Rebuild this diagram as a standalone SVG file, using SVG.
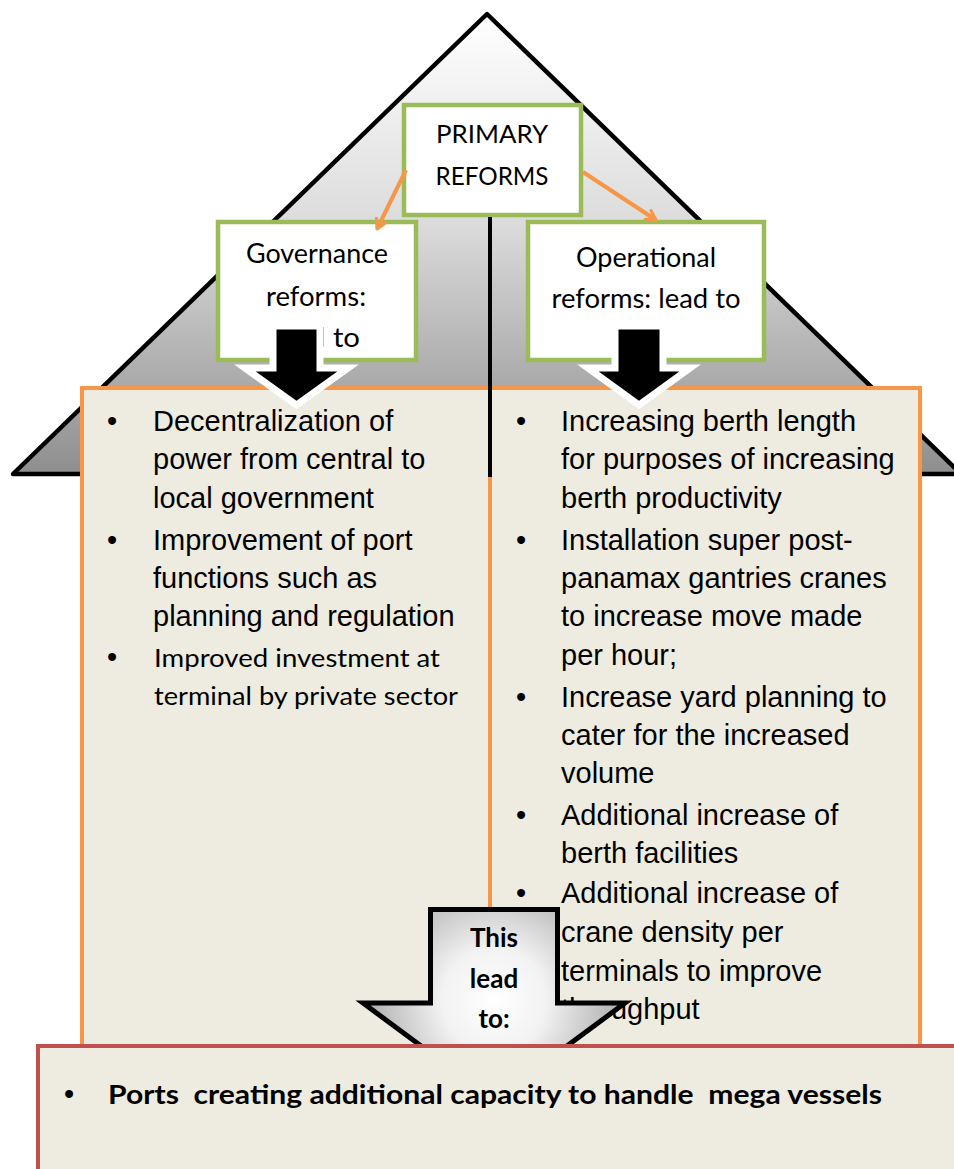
<svg xmlns="http://www.w3.org/2000/svg" width="954" height="1169" viewBox="0 0 954 1169">
<defs>
<linearGradient id="roofGrad" gradientUnits="userSpaceOnUse" x1="0" y1="14" x2="0" y2="474">
<stop offset="0" stop-color="#ffffff"/>
<stop offset="0.45" stop-color="#dcdcdc"/>
<stop offset="1" stop-color="#8e8e8e"/>
</linearGradient>
<radialGradient id="arrowGrad" gradientUnits="userSpaceOnUse" cx="494" cy="1000" r="150">
<stop offset="0" stop-color="#ffffff"/>
<stop offset="0.35" stop-color="#f2f2f2"/>
<stop offset="1" stop-color="#9a9a9a"/>
</radialGradient>
<marker id="openArrow" viewBox="0 0 12 12" refX="10" refY="6" markerWidth="13" markerHeight="13" markerUnits="userSpaceOnUse" orient="auto">
<path d="M1,1 L10,6 L1,11" fill="none" stroke="#f79646" stroke-width="2.8" stroke-linecap="round" stroke-linejoin="round"/>
</marker>
<style>
.green{fill:#ffffff;stroke:#9bbb59;stroke-width:4.5}
.cal{font-family:Lato,"Open Sans","Liberation Sans",sans-serif;fill:#000}
.ar{font-family:"Liberation Sans",Arial,sans-serif;font-size:29px;fill:#000}
.orangebox{fill:#eeece1;stroke:#f79646;stroke-width:4}
.blk{fill:#000;stroke:#ffffff;stroke-width:7;stroke-linejoin:miter}
.conn{stroke:#f79646;stroke-width:4;fill:none;marker-end:url(#openArrow)}
</style>
</defs>

<g id="roof">
<polygon points="487,14 961,474 13,474" fill="url(#roofGrad)" stroke="#000" stroke-width="4.5" stroke-linejoin="round"/>
</g>

<g id="primary">
<rect class="green" x="404" y="105" width="177" height="110"/>
<text class="cal" x="492" y="143" font-size="25" text-anchor="middle" textLength="112" lengthAdjust="spacingAndGlyphs">PRIMARY</text>
<text class="cal" x="492" y="185" font-size="25" text-anchor="middle" textLength="113" lengthAdjust="spacingAndGlyphs">REFORMS</text>
</g>

<g id="governance">
<rect class="green" x="218" y="222" width="198" height="138"/>
<text class="cal" x="317" y="263" font-size="26" text-anchor="middle" textLength="142" lengthAdjust="spacingAndGlyphs">Governance</text>
<text class="cal" x="316" y="306" font-size="26" text-anchor="middle" textLength="100" lengthAdjust="spacingAndGlyphs">reforms:</text>
<text class="cal" x="316" y="347" font-size="26" text-anchor="middle" textLength="88" lengthAdjust="spacingAndGlyphs">lead to</text>
</g>

<g id="operational">
<rect class="green" x="528" y="222" width="236" height="138"/>
<text class="cal" x="646" y="267" font-size="26" text-anchor="middle" textLength="140" lengthAdjust="spacingAndGlyphs">Operational</text>
<text class="cal" x="646" y="308" font-size="26" text-anchor="middle" textLength="189" lengthAdjust="spacingAndGlyphs">reforms: lead to</text>
</g>

<g id="connectors">
<line class="conn" x1="406" y1="170" x2="377" y2="229"/>
<line class="conn" x1="583" y1="172" x2="656" y2="220"/>
</g>

<g id="governance-outcomes">
<rect class="orangebox" x="82" y="388" width="408" height="680"/>
<text class="ar" x="112" y="430.5" text-anchor="middle">•</text>
<text class="ar" x="153" y="430.5">Decentralization of</text>
<text class="ar" x="153" y="469">power from central to</text>
<text class="ar" x="153" y="507.5">local government</text>
<text class="ar" x="112" y="549.5" text-anchor="middle">•</text>
<text class="ar" x="153" y="549.5">Improvement of port</text>
<text class="ar" x="153" y="588">functions such as</text>
<text class="ar" x="153" y="626">planning and regulation</text>
<text class="ar" x="112" y="667" text-anchor="middle">•</text>
<text class="cal" x="154" y="667" font-size="25.5" textLength="286" lengthAdjust="spacingAndGlyphs">Improved investment at</text>
<text class="cal" x="154" y="705" font-size="25.5" textLength="304" lengthAdjust="spacingAndGlyphs">terminal by private sector</text>
</g>

<g id="operational-outcomes">
<rect class="orangebox" x="490" y="388" width="430" height="680"/>
<text class="ar" x="521" y="430.5" text-anchor="middle">•</text>
<text class="ar" x="561" y="430.5">Increasing berth length</text>
<text class="ar" x="561" y="469">for purposes of increasing</text>
<text class="ar" x="561" y="507.5">berth productivity</text>
<text class="ar" x="521" y="549.5" text-anchor="middle">•</text>
<text class="ar" x="561" y="549.5">Installation super post-</text>
<text class="ar" x="561" y="588">panamax gantries cranes</text>
<text class="ar" x="561" y="626">to increase move made</text>
<text class="ar" x="561" y="664.5">per hour;</text>
<text class="ar" x="521" y="706.5" text-anchor="middle">•</text>
<text class="ar" x="561" y="706.5">Increase yard planning to</text>
<text class="ar" x="561" y="745">cater for the increased</text>
<text class="ar" x="561" y="783">volume</text>
<text class="ar" x="521" y="825" text-anchor="middle">•</text>
<text class="ar" x="561" y="825">Additional increase of</text>
<text class="ar" x="561" y="863">berth facilities</text>
<text class="ar" x="521" y="903" text-anchor="middle">•</text>
<text class="ar" x="561" y="903">Additional increase of</text>
<text class="ar" x="561" y="942">crane density per</text>
<text class="ar" x="561" y="981">terminals to improve</text>
<text class="ar" x="561" y="1019">throughput</text>
</g>

<g id="divider">
<line x1="490" y1="217" x2="490" y2="477" stroke="#000" stroke-width="4"/>
</g>

<g id="gov-arrow">
<polygon class="blk" points="273,326 320,326 320,368 348,368 296.5,405 245,368 273,368"/>
</g>
<g id="op-arrow">
<polygon class="blk" points="615,326 663,326 663,368 690,368 639,405 588,368 615,368"/>
</g>

<g id="lead-arrow">
<polygon points="430.5,909.5 557.5,909.5 557.5,1003 625,1003 494,1100 363,1003 430.5,1003" fill="url(#arrowGrad)" stroke="#000" stroke-width="5" stroke-linejoin="miter"/>
<text class="cal" x="494" y="947" font-size="26" font-weight="bold" text-anchor="middle">This</text>
<text class="cal" x="494" y="988" font-size="26" font-weight="bold" text-anchor="middle">lead</text>
<text class="cal" x="494" y="1028" font-size="26" font-weight="bold" text-anchor="middle">to:</text>
</g>

<g id="result">
<rect x="38" y="1046" width="940" height="150" fill="#eeece1" stroke="#c0504d" stroke-width="4"/>
<text class="ar" x="69" y="1104" text-anchor="middle">•</text>
<text class="cal" x="108" y="1104" font-size="27" font-weight="bold" textLength="774" lengthAdjust="spacingAndGlyphs" xml:space="preserve">Ports  creating additional capacity to handle  mega vessels</text>
</g>
</svg>
